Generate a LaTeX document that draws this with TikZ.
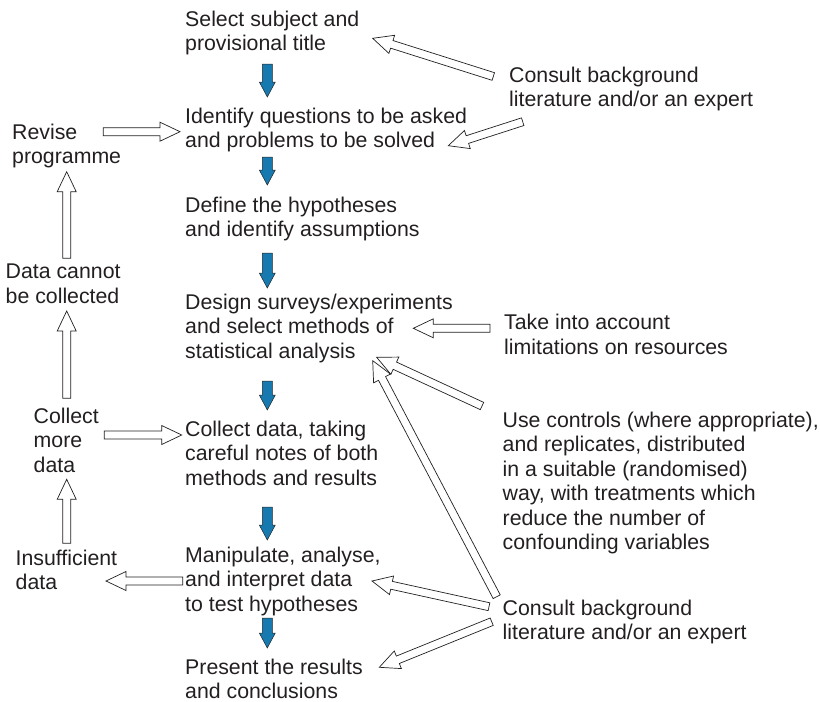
\documentclass[tikz,border=0pt]{standalone}
\usepackage{fontspec}
\setmainfont{Liberation Sans}
\usetikzlibrary{calc}
\definecolor{txt}{RGB}{35,31,32}
\definecolor{flow}{RGB}{22,122,176}
\begin{document}
\begin{tikzpicture}[x=1pt,y=-1pt,
  lbl/.style={anchor=base west, inner sep=0pt, align=left,
    font=\fontsize{21.3}{24.5}\selectfont, text=txt},
  fatarrow/.style n args={3}{to path={
    let \p1=($(\tikztotarget)-(\tikztostart)$),
        \n1={atan2(\y1,\x1)},
        \n2={veclen(\x1,\y1)},
        \n3={\n2-#3} in
    ($(\tikztostart)+(\n1+90:#1pt)$)
    -- ($(\tikztostart)+(\n1:\n3)+(\n1+90:#1pt)$)
    -- ($(\tikztostart)+(\n1:\n3)+(\n1+90:#2pt)$)
    -- (\tikztotarget)
    -- ($(\tikztostart)+(\n1:\n3)+(\n1-90:#2pt)$)
    -- ($(\tikztostart)+(\n1:\n3)+(\n1-90:#1pt)$)
    -- ($(\tikztostart)+(\n1-90:#1pt)$) -- cycle}},
  hollow/.style={fatarrow={4}{9.5}{20}, draw=txt, fill=white, line width=0.7pt, line join=miter},
  flowarrow/.style={fatarrow={5}{8}{15}, draw=black!85, fill=flow, line width=0.5pt, line join=miter},
]
\useasboundingbox (0,0) rectangle (820,702);

% main column (position = baseline of last line)
\node[lbl] (select) at (185,50.5) {Select subject and\\provisional title};
\node[lbl] (identify) at (185,147.5) {Identify questions to be asked\\and problems to be solved};
\node[lbl] (define) at (185,236.5) {Define the hypotheses\\and identify assumptions};
\node[lbl] (design) at (185,358) {Design surveys/experiments\\and select methods of\\statistical analysis};
\node[lbl] (collect) at (185,485) {Collect data, taking\\careful notes of both\\methods and results};
\node[lbl] (manip) at (185,611) {Manipulate, analyse,\\and interpret data\\to test hypotheses};
\node[lbl] (present) at (185,698.5) {Present the results\\and conclusions};

% left column
\node[lbl] (revise) at (12,163.5) {Revise\\programme};
\node[lbl] (cannot) at (5.5,303) {Data cannot\\be collected};
\node[lbl] (more) at (33.5,472) {Collect\\more\\data};
\node[lbl] (insuff) at (15.5,589.5) {Insufficient\\data};

% right column
\node[lbl] (consult1) at (509,106.5) {Consult background\\literature and/or an expert};
\node[lbl] (take) at (504,354) {Take into account\\limitations on resources};
\node[lbl] (use) at (502.5,549.5) {Use controls (where appropriate),\\and replicates, distributed\\in a suitable (randomised)\\way, with treatments which\\reduce the number of\\confounding variables};
\node[lbl] (consult2) at (502.5,639.5) {Consult background\\literature and/or an expert};

% blue flow arrows
\coordinate (f1s) at (267.3,64);  \coordinate (f1e) at (267.3,97);
\coordinate (f2s) at (267.3,157); \coordinate (f2e) at (267.3,185);
\coordinate (f3s) at (267.3,253); \coordinate (f3e) at (267.3,288);
\coordinate (f4s) at (267.3,381); \coordinate (f4e) at (267.3,410);
\coordinate (f5s) at (267.3,507); \coordinate (f5e) at (267.3,540);
\coordinate (f6s) at (267.3,618); \coordinate (f6e) at (267.3,648);
\foreach \i in {1,...,6} {\draw[flowarrow] (f\i s) to (f\i e);}

% hollow arrows
\coordinate (c1a) at (493.3,76.5);  \coordinate (c1b) at (372.7,38.3);
\coordinate (c2a) at (522.7,121.7); \coordinate (c2b) at (448.3,145.7);
\coordinate (rva) at (103.3,131.7); \coordinate (rvb) at (180,131.7);
\coordinate (dca) at (66.7,258.3);  \coordinate (dcb) at (66.7,171.7);
\coordinate (cma) at (66.7,398.3);  \coordinate (cmb) at (66.7,311);
\coordinate (isa) at (66.7,543.3);  \coordinate (isb) at (66.7,479.3);
\coordinate (mda) at (104.3,435);   \coordinate (mdb) at (181.7,435);
\coordinate (mpa) at (182.7,581);   \coordinate (mpb) at (106,581);
\coordinate (tka) at (490,328.3);   \coordinate (tkb) at (413.3,328.3);
\coordinate (uca) at (482,406);     \coordinate (ucb) at (376.7,357.3);
\coordinate (k1a) at (496.7,596.7); \coordinate (k1b) at (372.7,360.7);
\coordinate (k2a) at (489,606.7);   \coordinate (k2b) at (372,581);
\coordinate (k3a) at (491.7,621.7); \coordinate (k3b) at (379.3,667.3);

\draw[hollow] (c1a) to (c1b);
\draw[hollow] (c2a) to (c2b);
\draw[hollow] (rva) to (rvb);
\draw[hollow] (dca) to (dcb);
\draw[hollow] (cma) to (cmb);
\draw[hollow] (isa) to (isb);
\draw[hollow] (mda) to (mdb);
\draw[hollow] (mpa) to (mpb);
\draw[hollow] (tka) to (tkb);
\draw[hollow] (uca) to (ucb);
\draw[hollow] (k1a) to (k1b);
\draw[hollow] (k2a) to (k2b);
\draw[hollow] (k3a) to (k3b);
\end{tikzpicture}
\end{document}
